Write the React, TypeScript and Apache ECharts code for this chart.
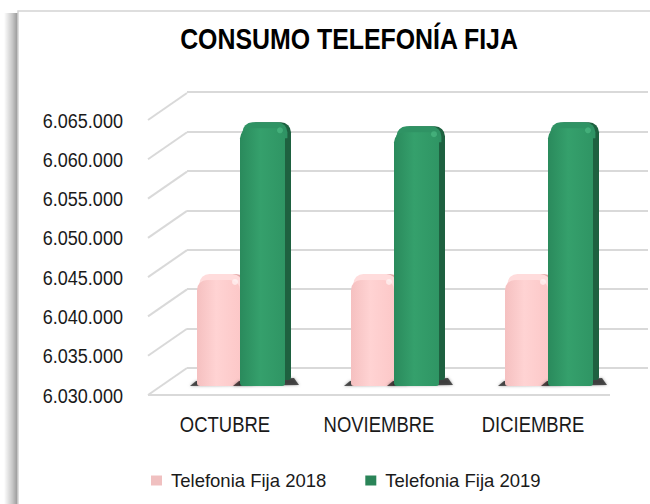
import React, { useEffect, useRef } from "react";
import * as echarts from "echarts";

const categories = ["OCTUBRE", "NOVIEMBRE", "DICIEMBRE"];
const fija2018 = [6043500, 6043500, 6043500];
const fija2019 = [6062800, 6062300, 6062800];
const yTicks = [6030000, 6035000, 6040000, 6045000, 6050000, 6055000, 6060000, 6065000];
const seriesNames = ["Telefonia Fija 2018", "Telefonia Fija 2019"];
const titleText = "CONSUMO TELEFONÍA FIJA";

const FONT = '"Liberation Sans", Arial, sans-serif';
const fmt = (v: number) => String(v).replace(/\B(?=(\d{3})+(?!\d))/g, ".");

const DX = 39;
const DY = -27;

function makeBarRender(offL: number, w: number, face: string[], side: string, topc: string, hi: string) {
  return (params: any, api: any) => {
    const idx = api.value(0);
    const val = api.value(1);
    const top = api.coord([idx, val]);
    const bot = api.coord([idx, yTicks[0]]);
    const c = top[0];
    const xL = c + offL;
    const yTop = top[1];
    const yBot = bot[1];
    const h = yBot - yTop;
    const d = 6;
    return {
      type: "group",
      children: [
        {
          type: "polygon",
          shape: {
            points: [
              [xL - 7, yBot],
              [xL + w + d + 8, yBot - 1],
              [xL + w + d + 3, yBot - 8],
              [xL - 1, yBot - 5],
            ],
          },
          style: { fill: "rgba(20,20,20,0.7)", shadowBlur: 3, shadowColor: "rgba(0,0,0,0.5)" },
        },
        {
          type: "rect",
          shape: { x: xL + d, y: yTop - d, width: w, height: h, r: [10, 10, 3, 3] },
          style: { fill: side },
        },
        {
          type: "rect",
          shape: { x: xL + d * 0.4, y: yTop - d, width: w, height: 16, r: [10, 10, 0, 0] },
          style: { fill: topc },
        },
        {
          type: "rect",
          shape: { x: xL, y: yTop, width: w, height: h, r: [10, 10, 3, 3] },
          style: {
            fill: new echarts.graphic.LinearGradient(0, 0, 1, 0, [
              { offset: 0, color: face[0] },
              { offset: 0.45, color: face[1] },
              { offset: 1, color: face[2] },
            ]),
          },
        },
        {
          type: "circle",
          shape: { cx: xL + w - 5, cy: yTop + 2, r: 3 },
          style: { fill: hi },
        },
      ],
    };
  };
}

export default function App() {
  const ref = useRef<HTMLDivElement>(null);
  useEffect(() => {
    if (!ref.current) return;
    const chart = echarts.init(ref.current, null, { renderer: "svg" });
    const yMin = yTicks[0];
    const yMax = yTicks[yTicks.length - 1];
    const interval = yTicks[1] - yTicks[0];
    const option: any = {
      animation: false,
      backgroundColor: "#ffffff",
      graphic: [
        {
          type: "rect",
          shape: { x: 4, y: 13, width: 14, height: 495 },
          style: {
            fill: new echarts.graphic.LinearGradient(0, 0, 1, 0, [
              { offset: 0, color: "rgba(0,0,0,0)" },
              { offset: 0.6, color: "rgba(0,0,0,0.22)" },
              { offset: 1, color: "rgba(0,0,0,0.42)" },
            ]),
          },
          z: -20,
          silent: true,
        },
        {
          type: "rect",
          shape: { x: 18, y: 11, width: 660, height: 520 },
          style: { fill: "#fff", stroke: "#d4d4d4", lineWidth: 1.5 },
          z: -10,
          silent: true,
        },
        {
          type: "text",
          x: 349,
          y: 39,
          scaleX: 0.83,
          style: {
            text: titleText,
            x: 0,
            y: 0,
            align: "center",
            verticalAlign: "middle",
            fontFamily: FONT,
            fontSize: 30,
            fontWeight: "bold",
            fill: "#000",
          },
        },
      ],
      legend: {
        data: seriesNames,
        top: 466,
        left: 146,
        itemGap: 39,
        itemWidth: 11,
        itemHeight: 10,
        icon: "rect",
        textStyle: { fontFamily: FONT, fontSize: 18.5, color: "#1a1a1a", padding: [0, 0, 0, 4] },
      },
      grid: [
        { left: 148, top: 120, width: 462, height: 275 },
        { left: 165, top: 111, width: 462, height: 275 },
        { left: 187, top: 92, width: 461, height: 276 },
      ],
      xAxis: [
        {
          gridIndex: 0,
          type: "category",
          data: categories,
          axisLine: { show: false },
          axisTick: { show: false },
          axisLabel: { show: false },
        },
        { gridIndex: 1, type: "category", data: categories, show: false },
        { gridIndex: 2, type: "category", data: categories, show: false },
      ],
      yAxis: [
        {
          gridIndex: 0,
          type: "value",
          min: yMin,
          max: yMax,
          interval,
          splitLine: { show: false },
          axisLine: { show: false },
          axisTick: { show: false },
          axisLabel: { show: false },
        },
        { gridIndex: 1, type: "value", min: yMin, max: yMax, interval, show: false, splitLine: { show: false } },
        {
          gridIndex: 2,
          type: "value",
          min: yMin,
          max: yMax,
          interval,
          axisLabel: { show: false },
          axisLine: { show: false },
          axisTick: { show: false },
          splitLine: { show: true, lineStyle: { color: "#d9d9d9", width: 2 } },
        },
      ],
      series: [
        {
          type: "custom",
          name: "yframe",
          xAxisIndex: 0,
          yAxisIndex: 0,
          clip: false,
          silent: true,
          data: yTicks.map((v) => [0, v]),
          renderItem: (params: any, api: any) => {
            const cs = params.coordSys;
            const v = api.value(1);
            const y = api.coord([0, v])[1];
            const children: any[] = [
              {
                type: "line",
                shape: { x1: cs.x, y1: y, x2: cs.x + DX, y2: y + DY },
                style: { stroke: "#d9d9d9", lineWidth: 2 },
              },
              {
                type: "text",
                x: cs.x - 25,
                y: y,
                scaleX: 0.86,
                style: {
                  text: fmt(v),
                  x: 0,
                  y: 0,
                  align: "right",
                  verticalAlign: "middle",
                  fontFamily: FONT,
                  fontSize: 21,
                  fill: "#1a1a1a",
                },
              },
            ];
            if (v === yTicks[0]) {
              children.push({
                type: "line",
                shape: { x1: cs.x, y1: y, x2: cs.x + cs.width, y2: y },
                style: { stroke: "#d9d9d9", lineWidth: 2 },
              });
            }
            return { type: "group", children };
          },
        },
        {
          type: "custom",
          name: "xlabels",
          xAxisIndex: 0,
          yAxisIndex: 0,
          clip: false,
          silent: true,
          data: categories.map((c, i) => [i, yMin]),
          renderItem: (params: any, api: any) => {
            const i = api.value(0);
            const p = api.coord([i, api.value(1)]);
            return {
              type: "text",
              x: p[0],
              y: p[1] + 29,
              scaleX: 0.84,
              style: {
                text: categories[i],
                x: 0,
                y: 0,
                align: "center",
                verticalAlign: "middle",
                fontFamily: FONT,
                fontSize: 22,
                fill: "#1a1a1a",
              },
            };
          },
        },
        {
          type: "custom",
          name: seriesNames[0],
          xAxisIndex: 1,
          yAxisIndex: 1,
          clip: false,
          itemStyle: { color: "#f0c0c0" },
          data: fija2018.map((v, i) => [i, v]),
          renderItem: makeBarRender(-45, 43, ["#f5c0c0", "#ffd3d3", "#fcc8c8"], "#e2a8a8", "#ffdcdc", "rgba(255,245,245,0.7)"),
        },
        {
          type: "custom",
          name: seriesNames[1],
          xAxisIndex: 1,
          yAxisIndex: 1,
          clip: false,
          itemStyle: { color: "#2a8458" },
          data: fija2019.map((v, i) => [i, v]),
          renderItem: makeBarRender(-2, 45, ["#2a8a5c", "#35a06c", "#2f9564"], "#1e6140", "#2f9364", "rgba(80,190,135,0.6)"),
        },
      ],
    };
    chart.setOption(option);
    return () => chart.dispose();
  }, []);
  return (
    <div
      ref={ref}
      style={{ position: "fixed", left: 0, top: 0, width: 650, height: 504 }}
    />
  );
}
